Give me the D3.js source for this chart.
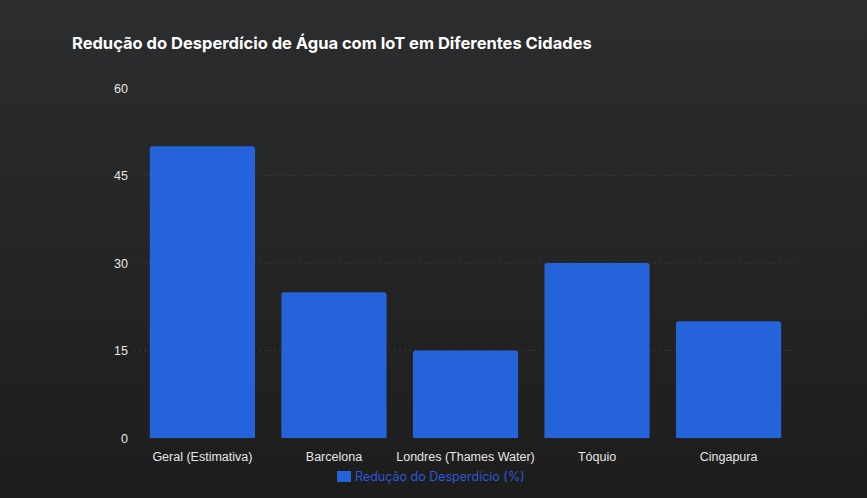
<!DOCTYPE html>
<html><head><meta charset="utf-8">
<script src="https://cdn.jsdelivr.net/npm/d3@7"></script>
<style>
body{margin:0;background:#202020;}
svg{display:block;font-family:"Inter","Noto Sans",sans-serif;}
</style></head>
<body><svg id="chart" width="867" height="498"></svg>
<script>
var categories = ['Geral (Estimativa)','Barcelona','Londres (Thames Water)','Tóquio','Cingapura'];
var values = [50, 25, 15, 30, 20];
var yTicks = [0, 15, 30, 45, 60];
var seriesName = 'Redução do Desperdício (%)';

var svg = d3.select('#chart'), width = 867, height = 498;

var defs = svg.append('defs');
var grad = defs.append('linearGradient').attr('id','bg').attr('x1',0).attr('y1',0).attr('x2',0).attr('y2',1);
grad.append('stop').attr('offset','0%').attr('stop-color','#2c2d2e');
grad.append('stop').attr('offset','100%').attr('stop-color','#1d1d1d');
svg.append('rect').attr('width',width).attr('height',height).attr('fill','url(#bg)');

svg.append('text').attr('x',72).attr('y',49)
    .attr('fill','#fff').attr('font-size','16.5px').attr('font-weight','bold')
    .text('Redução do Desperdício de Água com IoT em Diferentes Cidades');

var x = d3.scaleBand().domain(categories).range([134, 797]).paddingInner(0.2).paddingOuter(0.12);
var y = d3.scaleLinear().domain([0, 60]).range([438, 88]);

// grid (no line at the top tick)
svg.append('g').selectAll('line').data(yTicks.slice(1, -1)).enter().append('line')
    .attr('x1',134).attr('x2',797)
    .attr('y1',d=>y(d)).attr('y2',d=>y(d))
    .attr('stroke','#363636').attr('stroke-dasharray','2,3');

var yAxis = svg.append('g').attr('transform','translate(128,0)')
    .call(d3.axisLeft(y).tickValues(yTicks).tickSize(0).tickPadding(0));
yAxis.select('.domain').remove();
yAxis.selectAll('text').attr('fill','#e6e6e6').attr('font-size','12.5px').attr('font-family','inherit');

svg.append('g').selectAll('path').data(values).enter().append('path')
    .attr('fill','#2563db')
    .attr('d', function(d, i) {
        var x0 = x(categories[i]), w = x.bandwidth(), y0 = y(d), b = y(0), r = 3;
        return 'M'+x0+','+b+'V'+(y0+r)+'Q'+x0+','+y0+' '+(x0+r)+','+y0+
            'H'+(x0+w-r)+'Q'+(x0+w)+','+y0+' '+(x0+w)+','+(y0+r)+'V'+b+'Z';
    });

var xAxis = svg.append('g').attr('transform','translate(0,'+y(0)+')')
    .call(d3.axisBottom(x).tickSize(0).tickPadding(14));
xAxis.select('.domain').remove();
xAxis.selectAll('text').attr('fill','#e6e6e6').attr('font-size','12.5px').attr('font-family','inherit');

var leg = svg.append('g').attr('transform','translate(337,471)');
leg.append('rect').attr('width',14).attr('height',11).attr('fill','#2563db');
leg.append('text').attr('x',18).attr('y',10).attr('fill','#2a5ad6').attr('font-size','12.5px').text(seriesName);
</script></body></html>
